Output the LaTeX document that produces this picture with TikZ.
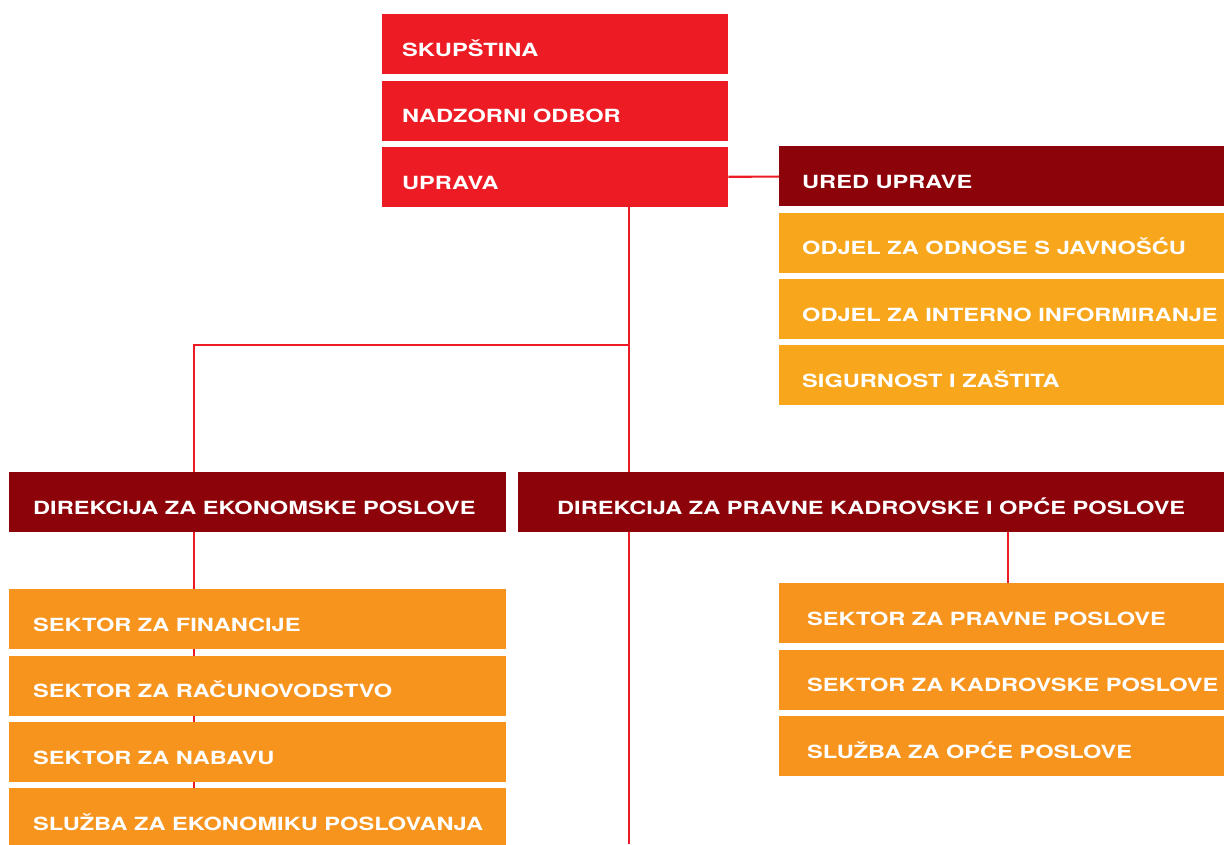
\documentclass[tikz,border=0pt]{standalone}
\usepackage{fontspec}
\usepackage{tikz}
\usetikzlibrary{positioning, backgrounds}
\newfontfamily\unitfont{TeX Gyre Heros}[FakeStretch=1.3]
\definecolor{boardred}{HTML}{ED1C24}
\definecolor{directred}{HTML}{8C0309}
\definecolor{sectorange}{HTML}{F7941E}
\definecolor{officeamber}{HTML}{F8A61C}

\begin{document}
\begin{tikzpicture}[x=1pt, y=-1pt,
                box/.style={rectangle, text=white, minimum height=60pt, inner ysep=0pt, text height=24pt, text depth=0pt, anchor=north west, font=\unitfont\bfseries\fontsize{18.15pt}{20pt}\selectfont}, % Common look of every unit
                wide/.style={execute at begin node={\hbox to #1\bgroup}, execute at end node={\hss\egroup}}, % Left aligned text, fixed width
                board/.style={box, fill=boardred, inner xsep=20pt, wide=306pt},
                office/.style={box, fill=directred, inner xsep=23pt, wide=399pt},
                dept/.style={box, fill=officeamber, inner xsep=23pt, wide=399pt},
                direction/.style={box, fill=directred, inner xsep=24pt, wide=449pt},
                sector/.style={box, fill=sectorange, inner xsep=24pt, wide=449pt},
                service/.style={box, fill=sectorange, inner xsep=28pt, wide=389pt},
                link/.style={draw=boardred, line width=2.2pt} % Red connectors
                ]
                \useasboundingbox (0,0) rectangle (1224,844);

                % Top of the company
                \node[board] (skup) at (382,14) {SKUPŠTINA};
                \node[board, below=6pt of skup] (nadzor) {NADZORNI ODBOR};
                \node[board, below=6pt of nadzor] (uprava) {UPRAVA};

                % Office of the board
                \node[office] (ured) at (779,146) {URED UPRAVE};
                \node[dept, below=6pt of ured] (odnosi) {ODJEL ZA ODNOSE S JAVNOŠĆU};
                \node[dept, below=6pt of odnosi] (interno) {ODJEL ZA INTERNO INFORMIRANJE};
                \node[dept, below=6pt of interno] (sigurnost) {SIGURNOST I ZAŠTITA};

                % Directions
                \node[direction] (ekonom) at (9,472) {DIREKCIJA ZA EKONOMSKE POSLOVE};
                \node[box, fill=directred, minimum width=706pt, inner xsep=0pt] (pravni) at (518,472) {DIREKCIJA ZA PRAVNE KADROVSKE I OPĆE POSLOVE};

                \node[sector] (financije) at (9,589) {SEKTOR ZA FINANCIJE};
                \node[sector, below=6pt of financije] (racun) {SEKTOR ZA RAČUNOVODSTVO};
                \node[sector, below=6pt of racun] (nabava) {SEKTOR ZA NABAVU};
                \node[sector, below=6pt of nabava] (ekonomika) {SLUŽBA ZA EKONOMIKU POSLOVANJA};

                \node[service] (pravne) at (779,583) {SEKTOR ZA PRAVNE POSLOVE};
                \node[service, below=6pt of pravne] (kadrovske) {SEKTOR ZA KADROVSKE POSLOVE};
                \node[service, below=6pt of kadrovske] (opce) {SLUŽBA ZA OPĆE POSLOVE};

                \coordinate (split) at (629,345);
                \coordinate (spine) at (629,844);
                \coordinate (ekbranch) at (194,345);
                \coordinate (prbranch) at (1008,583);

                % Lines run behind the boxes
                \begin{scope}[on background layer]
                \draw[link] (uprava) -- (ured);
                \draw[link] (uprava.south -| spine) -- (spine);
                \draw[link] (split) -- (ekbranch) -- (ekbranch |- ekonomika.north);
                \draw[link] (pravni.south -| prbranch) -- (prbranch);
                \end{scope}
            \end{tikzpicture}
\end{document}
